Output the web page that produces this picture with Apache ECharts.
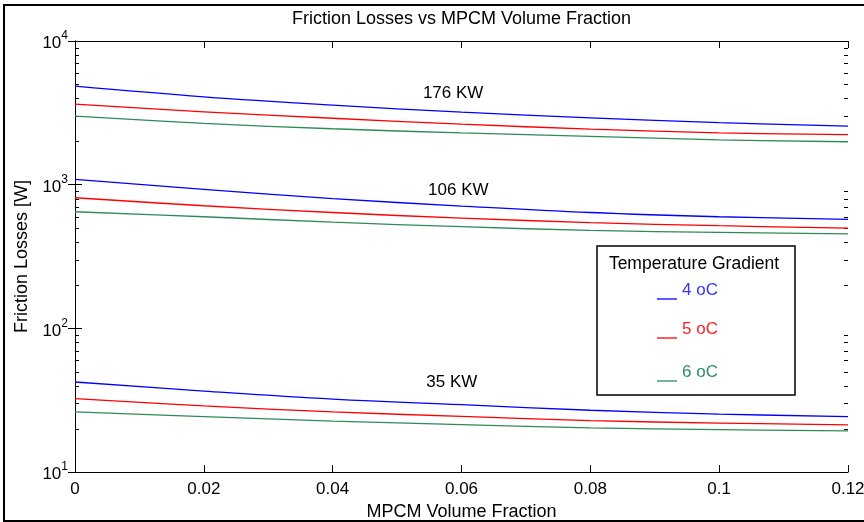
<!DOCTYPE html>
<html>
<head>
<meta charset="utf-8">
<script src="https://cdn.jsdelivr.net/npm/echarts@6/dist/echarts.min.js"></script>
<style>
  html, body { margin: 0; padding: 0; background: #fff; }
  #main { width: 864px; height: 522px; }
</style>
</head>
<body>
<div id="main"></div>
<script>
// 体积分数（横轴）
var fractions = [0, 0.02, 0.04, 0.06, 0.08, 0.10, 0.12];

// 三个功率下、三个温差的摩擦损失 [W]
var kw176_4 = [4850, 4090, 3580, 3200, 2920, 2700, 2557];
var kw176_5 = [3640, 3216, 2900, 2640, 2438, 2296, 2232];
var kw176_6 = [3000, 2672, 2450, 2290, 2170, 2050, 1990];

var kw106_4 = [1089, 927, 800, 710, 640, 598, 574];
var kw106_5 = [811, 713, 640, 585, 545, 518, 499];
var kw106_6 = [648, 598, 548, 510, 480, 465, 455];

var kw35_4 = [42.3, 36.6, 32.2, 29.4, 26.9, 25.3, 24.3];
var kw35_5 = [32.4, 28.9, 26.2, 24.4, 22.8, 21.9, 21.3];
var kw35_6 = [26.2, 24.3, 22.6, 21.4, 20.3, 19.7, 19.3];

var gradients = ['4 oC', '5 oC', '6 oC'];
var colors = ['#0000ff', '#ff0000', '#2e8b57'];
var textColors = ['#3333ff', '#ff2020', '#2e8b6a'];

// 曲线组标注
var groupLabels = ['176 KW', '106 KW', '35 KW'];
var groupLabelPos = [[0.0587, 4340], [0.0595, 917], [0.0585, 42.3]];

// 对数轴次刻度
var minorTicks = [];
[10, 100, 1000].forEach(function (d) {
    for (var k = 2; k <= 9; k++) minorTicks.push([0, k * d]);
});

var groups = [
    [kw176_4, kw176_5, kw176_6],
    [kw106_4, kw106_5, kw106_6],
    [kw35_4, kw35_5, kw35_6]
];

var font = 'Liberation Sans';
var series = [];
groups.forEach(function (g, gi) {
    g.forEach(function (vals, i) {
        series.push({
            name: gradients[i],
            type: 'line',
            smooth: 0.4,
            showSymbol: false,
            silent: true,
            lineStyle: { color: colors[i], width: 1.3 },
            data: vals.map(function (v, j) { return [fractions[j], v]; })
        });
    });
});

series.push({
    type: 'custom',
    silent: true,
    clip: false,
    encode: { x: 0, y: 1 },
    data: minorTicks,
    renderItem: function (params, api) {
        var cs = params.coordSys;
        var y = Math.round(api.coord([0, api.value(1)])[1]) + 0.5;
        var xl = cs.x, xr = cs.x + cs.width;
        return {
            type: 'group',
            children: [
                { type: 'line', shape: { x1: xl, y1: y, x2: xl + 4, y2: y }, style: { stroke: '#000', lineWidth: 1 } },
                { type: 'line', shape: { x1: xr, y1: y, x2: xr - 4, y2: y }, style: { stroke: '#000', lineWidth: 1 } }
            ]
        };
    }
});

var myChart = echarts.init(document.getElementById('main'));

var yLabel = {
    fontFamily: font,
    margin: 7,
    formatter: function (v) {
        return '{b|10}{s|' + Math.round(Math.log10(v)) + '}';
    },
    rich: {
        b: { fontSize: 17, color: '#000', fontFamily: font, verticalAlign: 'bottom', lineHeight: 22 },
        s: { fontSize: 12, color: '#000', fontFamily: font, verticalAlign: 'top', lineHeight: 22 }
    }
};

var option = {
    animation: false,
    grid: { left: 75, right: 16, top: 41, bottom: 50, containLabel: false, outerBoundsMode: 'none' },
    xAxis: [{
        type: 'value',
        min: 0, max: 0.12, interval: 0.02,
        name: 'MPCM Volume Fraction',
        nameLocation: 'middle',
        nameGap: 29,
        nameTextStyle: { fontFamily: font, fontSize: 18, color: '#000' },
        axisLine: { lineStyle: { color: '#000', width: 1 } },
        axisTick: { inside: true, length: 7, lineStyle: { color: '#000' } },
        axisLabel: { fontFamily: font, fontSize: 17, color: '#000', margin: 9,
            formatter: function (v) { return String(+v.toFixed(2)); } },
        splitLine: { show: false }
    }, {
        type: 'value',
        position: 'top',
        min: 0, max: 0.12, interval: 0.02,
        axisLine: { lineStyle: { color: '#000', width: 1 } },
        axisTick: { inside: true, length: 7, lineStyle: { color: '#000' } },
        axisLabel: { show: false },
        splitLine: { show: false }
    }],
    yAxis: [{
        type: 'log',
        logBase: 10,
        min: 10, max: 10000,
        name: 'Friction Losses [W]',
        nameLocation: 'middle',
        nameGap: 44,
        nameRotate: 90,
        nameTextStyle: { fontFamily: font, fontSize: 18, color: '#000' },
        axisLine: { show: true, lineStyle: { color: '#000', width: 1 } },
        axisTick: { inside: true, length: 7, lineStyle: { color: '#000' } },
        axisLabel: yLabel,
        splitLine: { show: false }
    }, {
        type: 'log',
        logBase: 10,
        min: 10, max: 10000,
        position: 'right',
        axisLine: { show: true, lineStyle: { color: '#000', width: 1 } },
        axisTick: { inside: true, length: 7, lineStyle: { color: '#000' } },
        axisLabel: { show: false },
        splitLine: { show: false }
    }],
    series: series
};

myChart.setOption(option);

// 标题、标注与图例
var graphics = [];
graphics.push({
    type: 'rect', silent: true,
    shape: { x: 4, y: 5, width: 880, height: 516 },
    style: { fill: null, stroke: '#000', lineWidth: 2 }
});
var mid = myChart.convertToPixel({ xAxisIndex: 0 }, 0.06);
graphics.push({
    type: 'text', silent: true, x: mid, y: 19,
    style: { text: 'Friction Losses vs MPCM Volume Fraction', fontFamily: font, fontSize: 18, fill: '#000', align: 'center', verticalAlign: 'middle' }
});
groupLabels.forEach(function (t, i) {
    var p = myChart.convertToPixel({ xAxisIndex: 0, yAxisIndex: 0 }, groupLabelPos[i]);
    graphics.push({
        type: 'text', silent: true, x: p[0], y: p[1],
        style: { text: t, fontFamily: font, fontSize: 17, fill: '#000', align: 'center', verticalAlign: 'middle' }
    });
});
graphics.push({
    type: 'rect', silent: true,
    shape: { x: 597, y: 246, width: 198, height: 149 },
    style: { fill: '#fff', stroke: '#000', lineWidth: 1.5 }
});
graphics.push({
    type: 'text', silent: true, x: 694, y: 264,
    style: { text: 'Temperature Gradient', fontFamily: font, fontSize: 17.5, fill: '#000', align: 'center', verticalAlign: 'middle' }
});
var legendY = [290, 329, 372];
gradients.forEach(function (g, i) {
    var y = legendY[i];
    graphics.push({
        type: 'line', silent: true,
        shape: { x1: 657, y1: y + 9, x2: 677, y2: y + 9 },
        style: { stroke: colors[i], lineWidth: 1.3 }
    });
    graphics.push({
        type: 'text', silent: true, x: 682, y: y,
        style: { text: g, fontFamily: font, fontSize: 17, fill: textColors[i], align: 'left', verticalAlign: 'middle' }
    });
});
myChart.setOption({ graphic: graphics });
</script>
</body>
</html>
